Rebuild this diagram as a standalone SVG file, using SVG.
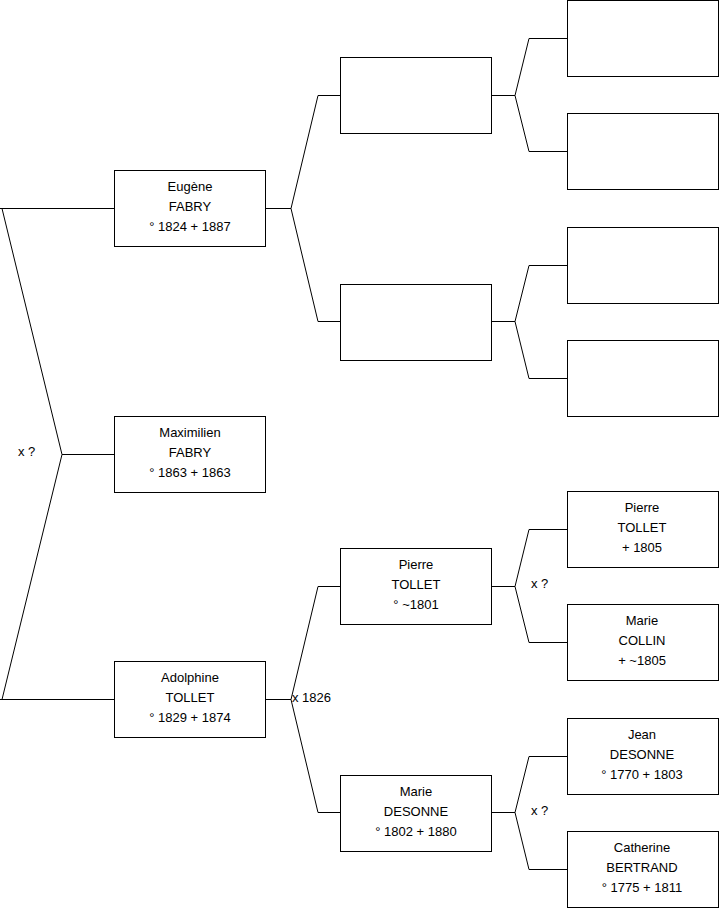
<svg xmlns="http://www.w3.org/2000/svg" width="719" height="908" viewBox="0 0 719 908">
<style>
.box{fill:#fff;stroke:#000;stroke-width:1}
.c{fill:none;stroke:#000;stroke-width:1}
text{font-family:"Liberation Sans",Arial,sans-serif;font-size:13px;fill:#000}
.t{text-anchor:middle}
</style>
<rect width="719" height="908" fill="#fff"/>
<g id="connectors">
<polyline class="c" points="114,208.5 0,208.5 2,208.5 62,454.5 2,699.5 0,699.5 114,699.5"/>
<line class="c" x1="62" y1="454.5" x2="114" y2="454.5"/>
<polyline class="c" points="340,95.5 318,95.5 291,208.5 318,321.5 340,321.5"/>
<line class="c" x1="265" y1="208.5" x2="291" y2="208.5"/>
<polyline class="c" points="340,586.5 318,586.5 291,699.5 318,812.5 340,812.5"/>
<line class="c" x1="265" y1="699.5" x2="291" y2="699.5"/>
<polyline class="c" points="567,38.5 529,38.5 515,95.5 529,151.5 567,151.5"/>
<line class="c" x1="492" y1="95.5" x2="515" y2="95.5"/>
<polyline class="c" points="567,265.5 529,265.5 515,321.5 529,378.5 567,378.5"/>
<line class="c" x1="492" y1="321.5" x2="515" y2="321.5"/>
<polyline class="c" points="567,529.5 529,529.5 515,586.5 529,642.5 567,642.5"/>
<line class="c" x1="492" y1="586.5" x2="515" y2="586.5"/>
<polyline class="c" points="567,756.5 529,756.5 515,812.5 529,869.5 567,869.5"/>
<line class="c" x1="492" y1="812.5" x2="515" y2="812.5"/>
<text x="18" y="456">x ?</text>
<text x="292" y="702">x 1826</text>
<text x="531" y="588">x ?</text>
<text x="531" y="815">x ?</text>
</g>
<g id="eugene"><rect class="box" x="114.5" y="170.5" width="151" height="76"/>
<text class="t" x="190" y="191">Eugène</text><text class="t" x="190" y="211">FABRY</text><text class="t" x="190" y="231">° 1824 + 1887</text></g>
<g id="maximilien"><rect class="box" x="114.5" y="416.5" width="151" height="76"/>
<text class="t" x="190" y="437">Maximilien</text><text class="t" x="190" y="457">FABRY</text><text class="t" x="190" y="477">° 1863 + 1863</text></g>
<g id="adolphine"><rect class="box" x="114.5" y="661.5" width="151" height="76"/>
<text class="t" x="190" y="682">Adolphine</text><text class="t" x="190" y="702">TOLLET</text><text class="t" x="190" y="722">° 1829 + 1874</text></g>
<g id="f1"><rect class="box" x="340.5" y="57.5" width="151" height="76"/></g>
<g id="m1"><rect class="box" x="340.5" y="284.5" width="151" height="76"/></g>
<g id="pierre1"><rect class="box" x="340.5" y="548.5" width="151" height="76"/>
<text class="t" x="416" y="569">Pierre</text><text class="t" x="416" y="589">TOLLET</text><text class="t" x="416" y="609">° ~1801</text></g>
<g id="marie1"><rect class="box" x="340.5" y="775.5" width="151" height="76"/>
<text class="t" x="416" y="796">Marie</text><text class="t" x="416" y="816">DESONNE</text><text class="t" x="416" y="836">° 1802 + 1880</text></g>
<g id="ff"><rect class="box" x="567.5" y="0.5" width="151" height="76"/></g>
<g id="fm"><rect class="box" x="567.5" y="113.5" width="151" height="76"/></g>
<g id="mf"><rect class="box" x="567.5" y="227.5" width="151" height="76"/></g>
<g id="mm"><rect class="box" x="567.5" y="340.5" width="151" height="76"/></g>
<g id="pierre2"><rect class="box" x="567.5" y="491.5" width="151" height="76"/>
<text class="t" x="642" y="512">Pierre</text><text class="t" x="642" y="532">TOLLET</text><text class="t" x="642" y="552">+ 1805</text></g>
<g id="collin"><rect class="box" x="567.5" y="604.5" width="151" height="76"/>
<text class="t" x="642" y="625">Marie</text><text class="t" x="642" y="645">COLLIN</text><text class="t" x="642" y="665">+ ~1805</text></g>
<g id="jean"><rect class="box" x="567.5" y="718.5" width="151" height="76"/>
<text class="t" x="642" y="739">Jean</text><text class="t" x="642" y="759">DESONNE</text><text class="t" x="642" y="779">° 1770 + 1803</text></g>
<g id="catherine"><rect class="box" x="567.5" y="831.5" width="151" height="76"/>
<text class="t" x="642" y="852">Catherine</text><text class="t" x="642" y="872">BERTRAND</text><text class="t" x="642" y="892">° 1775 + 1811</text></g>
</svg>
